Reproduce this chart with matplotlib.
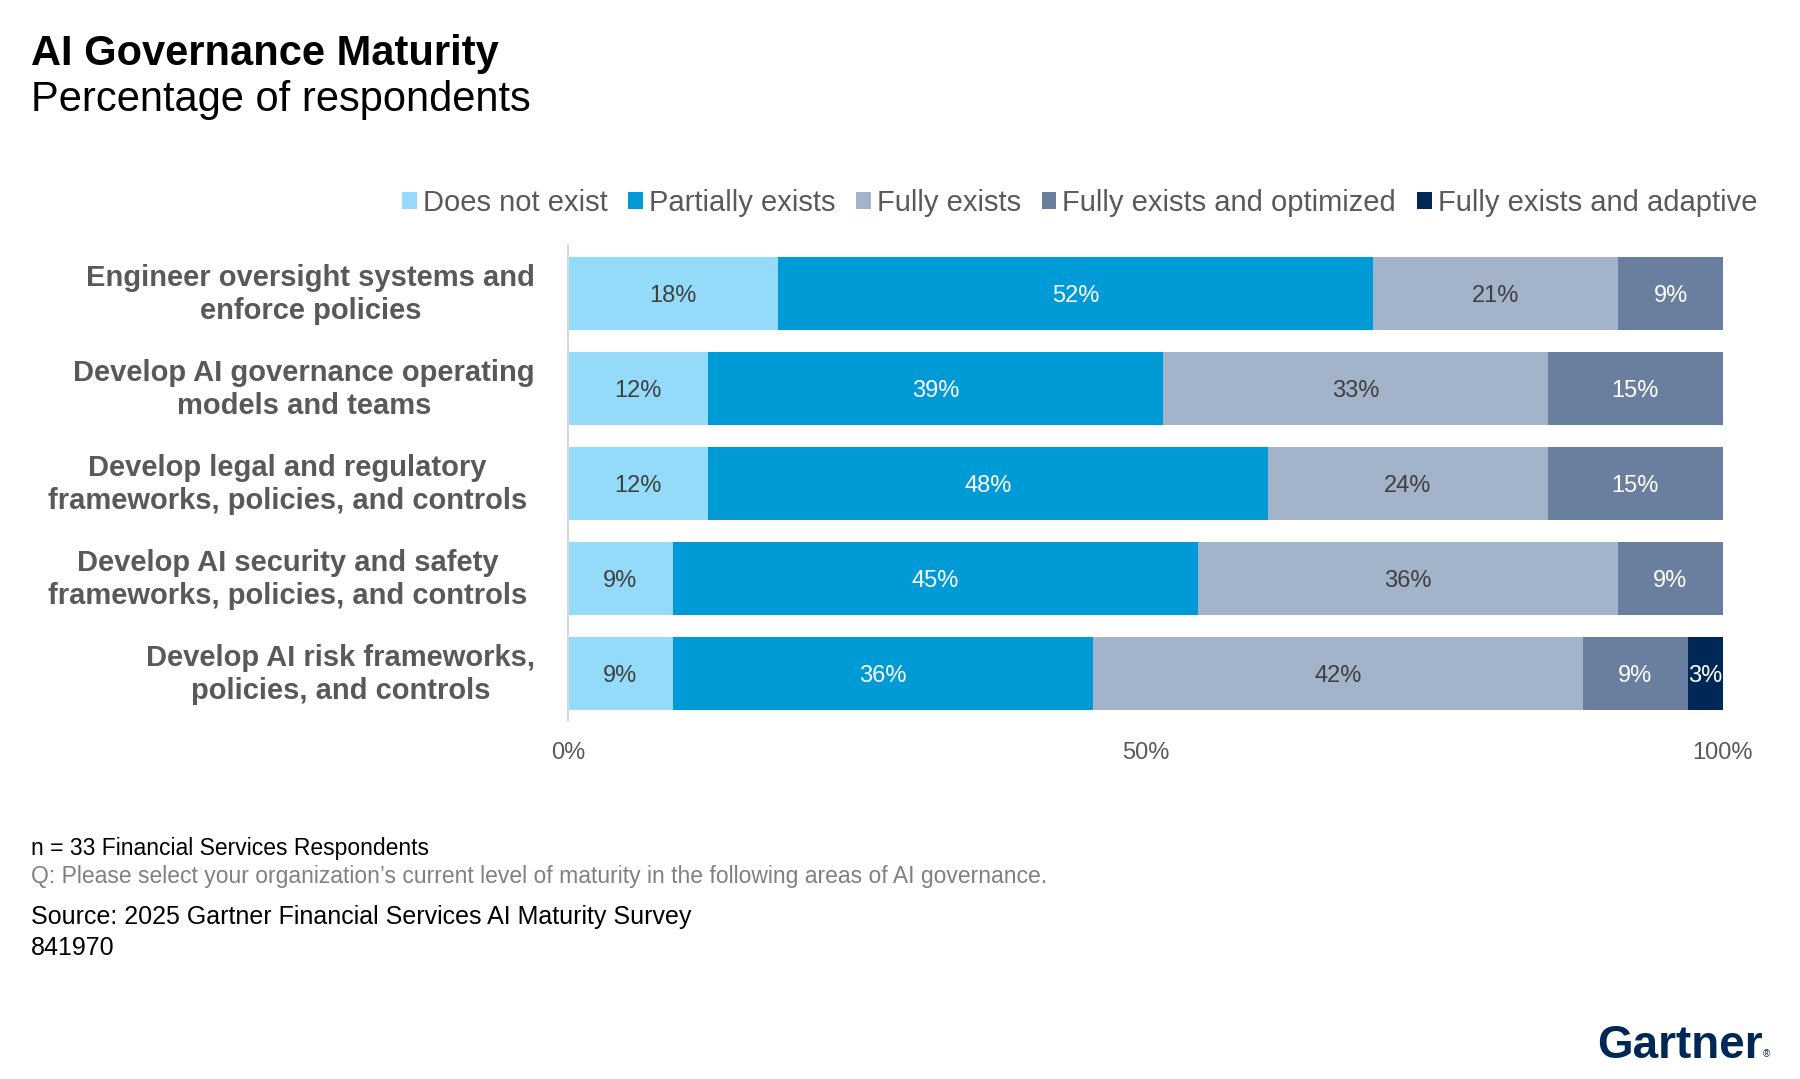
import numpy as np
import matplotlib
matplotlib.use('Agg')
import matplotlib.pyplot as plt

plt.rcParams['font.family'] = ['Liberation Sans', 'DejaVu Sans']

# dados (percentual de 33 respondentes)
categorias = [
    'Engineer oversight systems and\nenforce policies',
    'Develop AI governance operating\nmodels and teams',
    'Develop legal and regulatory\nframeworks, policies, and controls',
    'Develop AI security and safety\nframeworks, policies, and controls',
    'Develop AI risk frameworks,\npolicies, and controls',
]
series = ['Does not exist', 'Partially exists', 'Fully exists',
          'Fully exists and optimized', 'Fully exists and adaptive']
nao_existe = [18.18, 12.12, 12.12, 9.09, 9.09]
parcial = [51.52, 39.39, 48.48, 45.45, 36.36]
completo = [21.21, 33.33, 24.24, 36.36, 42.42]
otimizado = [9.09, 15.15, 15.15, 9.09, 9.09]
adaptativo = [0, 0, 0, 0, 3.03]
x_ticks = [0, 50, 100]
x_labels = ['0%', '50%', '100%']

cores = ['#93DBF8', '#009AD7', '#A2B3CA', '#6A7FA0', '#002856']
cor_texto = ['#404040', 'white', '#404040', 'white', 'white']

W, H = 1800, 1079
fig = plt.figure(figsize=(W / 100, H / 100), dpi=100)

def fx(px):
    return px / W

def fy(py):
    return 1 - py / H

ax = fig.add_axes([fx(568), fy(720), fx(1723) - fx(568), (720 - 245) / H])

valores = [nao_existe, parcial, completo, otimizado, adaptativo]
y = np.arange(len(categorias))
esquerda = np.zeros(len(categorias))
for nome, vals, cor, ct in zip(series, valores, cores, cor_texto):
    vals = np.array(vals)
    ax.barh(y, vals, left=esquerda, height=0.77, color=cor, label=nome)
    for i, v in enumerate(vals):
        if v > 0:
            ax.text(esquerda[i] + v / 2, y[i], f'{v:.0f}%', ha='center',
                    va='center_baseline', color=ct, fontsize=17)
    esquerda += vals

ax.set_xlim(0, 100)
ax.set_ylim(4.49, -0.51)
ax.set_yticks(y)
ax.set_yticklabels([])
# rotulos das categorias (as linhas longas ficam um pouco mais para dentro)
for i, cat in enumerate(categorias):
    recuo = 29.5 if i in (2, 3) else 23.8
    ax.annotate(cat, xy=(0, y[i]), xycoords=('axes fraction', 'data'),
                xytext=(-recuo, -0.7), textcoords='offset points',
                ha='right', va='center', multialignment='center',
                linespacing=1.25, fontsize=21, fontweight='bold', color='#595959')
ax.set_xticks(x_ticks)
ax.set_xticklabels(x_labels, fontsize=17, color='#595959')
ax.tick_params(axis='y', length=0)
ax.tick_params(axis='x', length=0, pad=16)
for s in ['top', 'right', 'bottom']:
    ax.spines[s].set_visible(False)
ax.spines['left'].set_color('#D9D9D9')
ax.spines['left'].set_linewidth(1.5)

fig.legend(loc='center right', bbox_to_anchor=(fx(1757), fy(203)), ncol=5,
           frameon=False, fontsize=21, handlelength=0.5, handleheight=0.5,
           handletextpad=0.2, columnspacing=0.72, labelcolor='#595959',
           borderaxespad=0, borderpad=0)

fig.text(fx(31), fy(65), 'AI Governance Maturity', fontsize=30, fontweight='bold',
         color='black', va='baseline')
fig.text(fx(31), fy(111), 'Percentage of respondents', fontsize=30,
         color='black', va='baseline')

fig.text(fx(31), fy(855), 'n = 33 Financial Services Respondents', fontsize=16.5,
         color='black', va='baseline')
fig.text(fx(31), fy(883),
         'Q: Please select your organization\u2019s current level of maturity in the following areas of AI governance.',
         fontsize=16.5, color='#808080', va='baseline')
fig.text(fx(31), fy(924), 'Source: 2025 Gartner Financial Services AI Maturity Survey',
         fontsize=18, color='black', va='baseline')
fig.text(fx(31), fy(955), '841970', fontsize=18, color='black', va='baseline')

fig.text(fx(1597), fy(1058), 'Gartner', fontsize=33, fontweight='bold',
         color='#002856', va='baseline')
fig.text(fx(1763), fy(1057), '\u00ae', fontsize=7, color='#002856', va='baseline')

fig.savefig('out.png', dpi=100)
